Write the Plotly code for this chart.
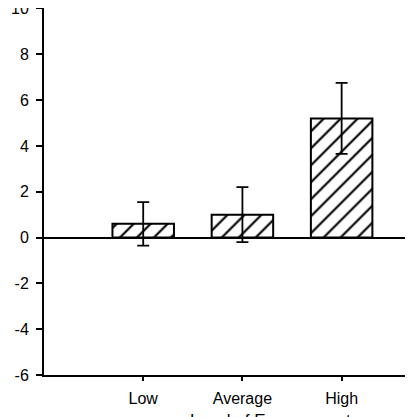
import plotly.graph_objects as go

# categories and values
categories = ["Low", "Average", "High"]
means = [0.6, 1.0, 5.2]
errors = [0.95, 1.2, 1.55]

y_ticks = [-6, -4, -2, 0, 2, 4, 6, 8, 10]
y_tick_labels = ["-6", "-4", "-2", "0", "2", "4", "6", "8", "10"]
x_title = "Level of Engagement"

fig = go.Figure()

fig.add_trace(go.Bar(
    x=categories,
    y=means,
    width=0.62,
    marker=dict(
        color="white",
        line=dict(color="black", width=2),
        pattern=dict(shape="/", fgcolor="black", bgcolor="white",
                     fgopacity=1, size=12, solidity=0.18),
    ),
    error_y=dict(type="data", array=errors, visible=True,
                 color="black", thickness=1.8, width=6),
    showlegend=False,
))

fig.update_layout(
    width=413,
    height=417,
    margin=dict(l=36, r=0, t=0, b=50),
    plot_bgcolor="white",
    paper_bgcolor="white",
    font=dict(family="Liberation Sans, Arial, sans-serif", size=16, color="black"),
)

# axis title sits mostly below the bottom edge, as in the cropped original
fig.add_annotation(
    text=x_title, xref="paper", yref="paper", x=0.6, y=0,
    yshift=-34, yanchor="top", showarrow=False, font=dict(size=17),
)

fig.update_xaxes(
    range=[-1.0, 2.8],
    showline=True, linecolor="black", linewidth=2,
    ticks="outside", ticklen=4, tickwidth=1.5, tickcolor="black",
    showgrid=False, zeroline=False,
    ticklabelstandoff=4,
    automargin=False,
)

fig.update_yaxes(
    range=[-6, 10.02],
    tickvals=y_ticks,
    ticktext=y_tick_labels,
    showline=True, linecolor="black", linewidth=2,
    ticks="outside", ticklen=6, tickwidth=1.5, tickcolor="black",
    showgrid=False,
    zeroline=True, zerolinecolor="black", zerolinewidth=2,
    ticklabelstandoff=4,
    ticklabeloverflow="allow",
    automargin=False,
)

fig.write_html("out.html")
